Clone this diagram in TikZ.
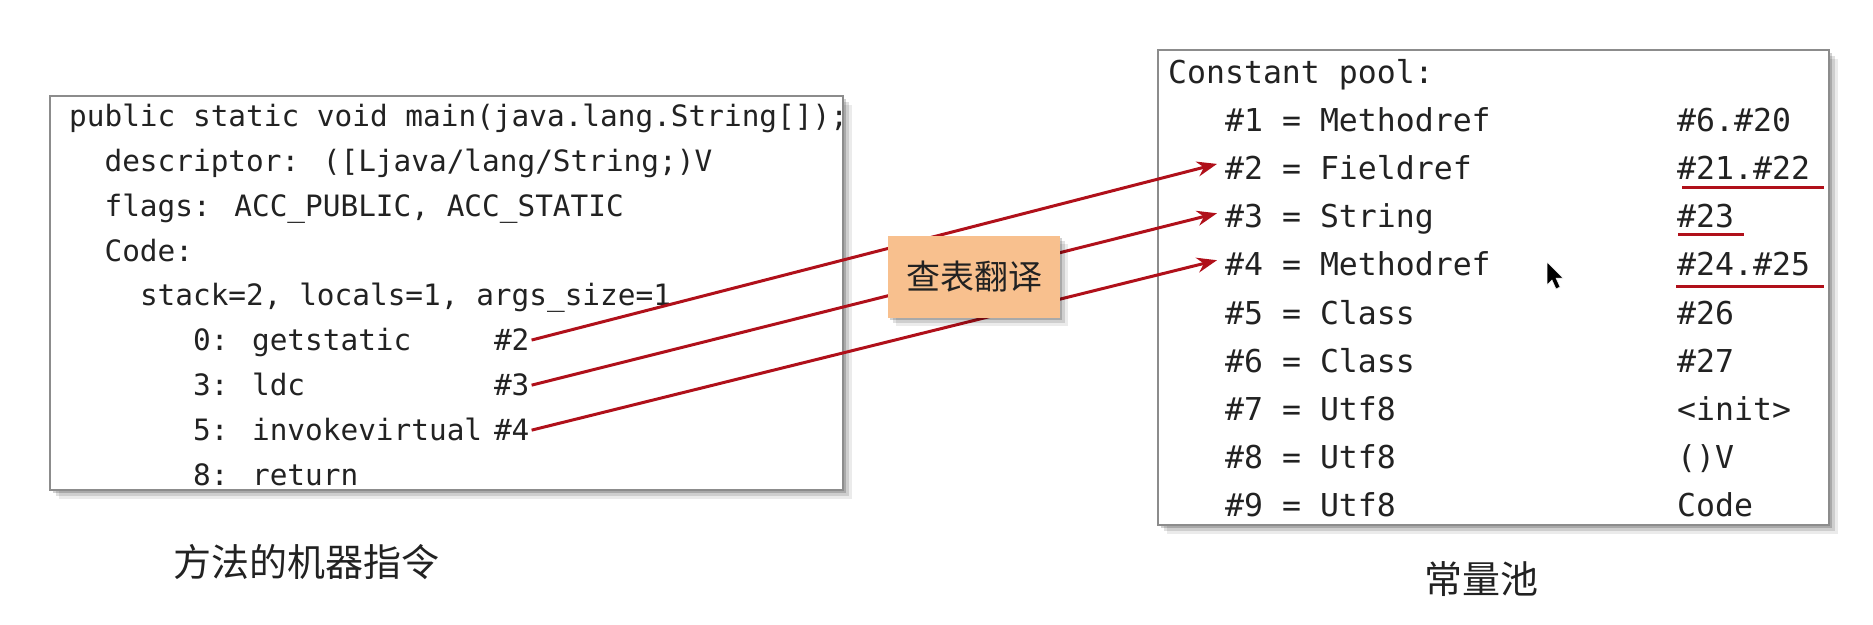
\documentclass[tikz,border=0pt]{standalone}
\usepackage{fontspec}
\newfontfamily\codefont{DejaVu Sans Mono}
\newfontfamily\cjk{Noto Sans CJK SC}
\usetikzlibrary{arrows.meta,calc}
\definecolor{arrred}{HTML}{B0101A}
\definecolor{peach}{HTML}{F8C08E}
\definecolor{ink}{HTML}{222222}
\tikzset{
  lcode/.style={anchor=mid west,inner sep=0pt,text=ink,font=\codefont\fontsize{29.4}{30}\selectfont},
  rcode/.style={anchor=mid west,inner sep=0pt,text=ink,font=\codefont\fontsize{31.5}{32}\selectfont},
  link/.style={draw=arrred,line width=3pt,-{Stealth[length=20pt,width=15pt]}},
  ul/.style={draw=arrred,line width=3pt},
  panel/.style={draw=black!45,line width=2pt,fill=white},
  caption/.style={inner sep=0pt,text=ink,font=\cjk\fontsize{38}{40}\selectfont},
}
\begin{document}
\begin{tikzpicture}[x=1pt,y=-1pt]
\useasboundingbox (0,0) rectangle (1873,624);
% shadows
\foreach \o/\a in {9/0.08,6/0.12,3/0.18}{
  \fill[black,opacity=\a] (50+\o,96+\o) rectangle (843+\o,490+\o);
  \fill[black,opacity=\a] (1158+\o,50+\o) rectangle (1829+\o,525+\o);
}
\path[panel] (50,96) rectangle (843,490);
\path[panel] (1158,50) rectangle (1829,525);
% left code
\node[lcode] (l0) at (69,124) {public static void main(java.lang.String[]);};
\node[lcode] (l1) at (104.4,169) {descriptor: ([Ljava/lang/String;)V};
\node[lcode] (l2) at (104.4,213.9) {flags: ACC\_PUBLIC, ACC\_STATIC};
\node[lcode] (l3) at (104.4,258.9) {Code:};
\node[lcode] (l4) at (139.8,303.8) {stack=2, locals=1, args\_size=1};
\node[lcode] (l5) at (192.9,348.8) {0: getstatic};
\node[lcode] (r2) at (493.8,348.8) {\#2};
\node[lcode] (l6) at (192.9,393.7) {3: ldc};
\node[lcode] (r3) at (493.8,393.7) {\#3};
\node[lcode] (l7) at (192.9,438.7) {5: invokevirtual};
\node[lcode] (r4) at (493.8,438.7) {\#4};
\node[lcode] (l8) at (192.9,483.6) {8: return};
% right code
\node[rcode] (c0) at (1168,81.4) {Constant pool:};
\foreach \i/\n/\v [count=\k from 1] in {1/Methodref/\#6.\#20,2/Fieldref/\#21.\#22,3/String/\#23,4/Methodref/\#24.\#25,5/Class/\#26,6/Class/\#27,7/Utf8/<init>,8/Utf8/()V,9/Utf8/Code}{
  \node[rcode] (k\i) at (1225,81.4+48.1*\k) {\#\i{} = \n};
  \node[rcode] (v\i) at (1677,81.4+48.1*\k) {\v};
}
% underlines
\draw[ul] ([xshift=5pt,yshift=-19pt]v2.west) -- ++(142,0);
\draw[ul] ([xshift=1pt,yshift=-18pt]v3.west) -- ++(66,0);
\draw[ul] ([xshift=-1pt,yshift=-22pt]v4.west) -- ++(148,0);
% arrows
\draw[link] ([xshift=2pt]r2.east) -- ([xshift=-8pt,yshift=4pt]k2.west);
\draw[link] ([xshift=2pt]r3.east) -- ([xshift=-8pt,yshift=6pt]k3.west);
\draw[link] ([xshift=2pt]r4.east) -- ([xshift=-8pt,yshift=4pt]k4.west);
% lookup box
\foreach \o/\a in {8/0.08,5/0.12,2/0.18}{
  \fill[black,opacity=\a] (888+\o,236+\o) rectangle (1060+\o,318+\o);
}
\node[fill=peach,minimum width=172pt,minimum height=82pt,inner sep=0pt,text=ink,font=\cjk\fontsize{34}{36}\selectfont] (lk) at (974,277) {查表翻译};
% captions
\node[caption] (cap1) at (306,562) {方法的机器指令};
\node[caption] (cap2) at (1481,579) {常量池};
% cursor
\filldraw[black,line width=0.5pt,draw=white] (1547,262) -- (1547,285) -- (1552,280) -- (1556,289) -- (1560,287) -- (1556,278) -- (1563,278) -- cycle;
\end{tikzpicture}
\end{document}
